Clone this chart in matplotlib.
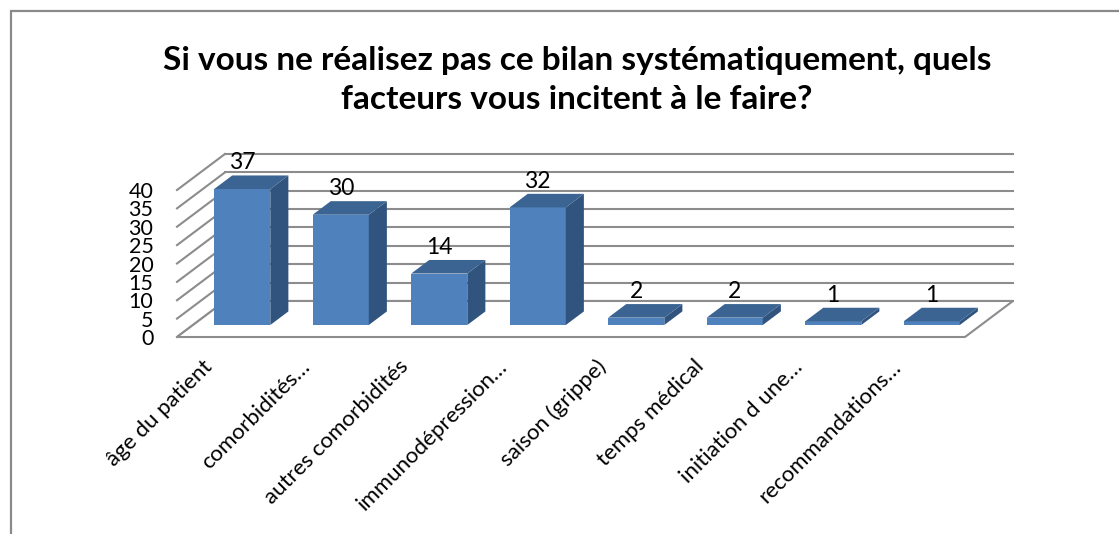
import numpy as np
import matplotlib
matplotlib.use("Agg")
import matplotlib.pyplot as plt
from matplotlib.patches import Polygon, Rectangle

plt.rcParams['font.family'] = ['Lato', 'DejaVu Sans']

# Données
categories = ['âge du patient', 'comorbidités…', 'autres comorbidités', 'immunodépression…',
              'saison (grippe)', 'temps médical', 'initiation d une…', 'recommandations…']
values = [37, 30, 14, 32, 2, 2, 1, 1]
yticks = [0, 5, 10, 15, 20, 25, 30, 35, 40]
title = 'Si vous ne réalisez pas ce bilan systématiquement, quels\nfacteurs vous incitent à le faire?'

# Couleurs et géométrie de la pseudo-3D
front_col = '#4F81BD'
side_col = '#31547F'
top_col = '#3B6492'
grid_col = '#8C8C8C'
DX = 0.487        # décalage de profondeur (unités catégorie)
DY = 9.8          # décalage de profondeur (unités valeur)
z0, z1 = 0.333, 0.71
bw = 0.57

W, H = 1119, 534
fig = plt.figure(figsize=(W / 100, H / 100), dpi=100)

# cadre du graphique
fig.add_artist(Rectangle((11 / W, -0.05), 1.1, 1 - 11 / H + 0.05, transform=fig.transFigure,
                         fill=False, edgecolor='#8A8A8A', linewidth=1.6))

n = len(categories)
xmin, xmax = -0.5, n + 0.1
ymin, ymax = 0, 52
ax = fig.add_axes([177 / W, (H - 337) / H, (xmax - xmin) * 98.5 / W, (ymax - ymin) * 3.675 / H])
ax.set_xlim(xmin, xmax)
ax.set_ylim(ymin, ymax)
ax.set_frame_on(False)

# quadrillage : mur du fond et mur de gauche
xl, xr = -0.5, n - 0.5
for v in yticks:
    ax.plot([xl + DX, xr + DX], [v + DY, v + DY], color=grid_col, lw=1.5, clip_on=False, zorder=1)
    ax.plot([xl, xl + DX], [v, v + DY], color=grid_col, lw=1.5, clip_on=False, zorder=1)

# plancher
floor = Polygon([[xl, 0], [xr, 0], [xr + DX, DY], [xl + DX, DY]], closed=True,
                facecolor='white', edgecolor=grid_col, lw=1.5, clip_on=False, zorder=2)
ax.add_patch(floor)

# barres
for i, v in enumerate(values):
    a = i - bw / 2
    b = i + bw / 2
    front = Polygon([[a + z0 * DX, z0 * DY], [b + z0 * DX, z0 * DY],
                     [b + z0 * DX, v + z0 * DY], [a + z0 * DX, v + z0 * DY]],
                    facecolor=front_col, edgecolor='none', clip_on=False, zorder=3)
    side = Polygon([[b + z0 * DX, z0 * DY], [b + z1 * DX, z1 * DY],
                    [b + z1 * DX, v + z1 * DY], [b + z0 * DX, v + z0 * DY]],
                   facecolor=side_col, edgecolor='none', clip_on=False, zorder=3)
    top = Polygon([[a + z0 * DX, v + z0 * DY], [b + z0 * DX, v + z0 * DY],
                   [b + z1 * DX, v + z1 * DY], [a + z1 * DX, v + z1 * DY]],
                  facecolor=top_col, edgecolor='none', clip_on=False, zorder=3)
    for p in (front, side, top):
        ax.add_patch(p)
    ax.text(i + z0 * DX, v + z1 * DY + 0.6, str(v), ha='center', va='bottom',
            fontsize=16.5, color='black', zorder=4)

# axes
ax.set_yticks(yticks)
ax.set_yticklabels([str(t) for t in yticks], fontsize=15.5)
ax.tick_params(axis='y', length=0, pad=17)
ax.set_xticks(np.arange(n) - 0.25)
ax.set_xticklabels(categories, rotation=45, ha='right', rotation_mode='anchor', fontsize=16)
ax.tick_params(axis='x', length=0, pad=14)

fig.text(577 / W, 1 - 80 / H, title, ha='center', va='center', fontsize=24,
         fontweight='bold', linespacing=1.42)

fig.savefig('out.png', dpi=100)
